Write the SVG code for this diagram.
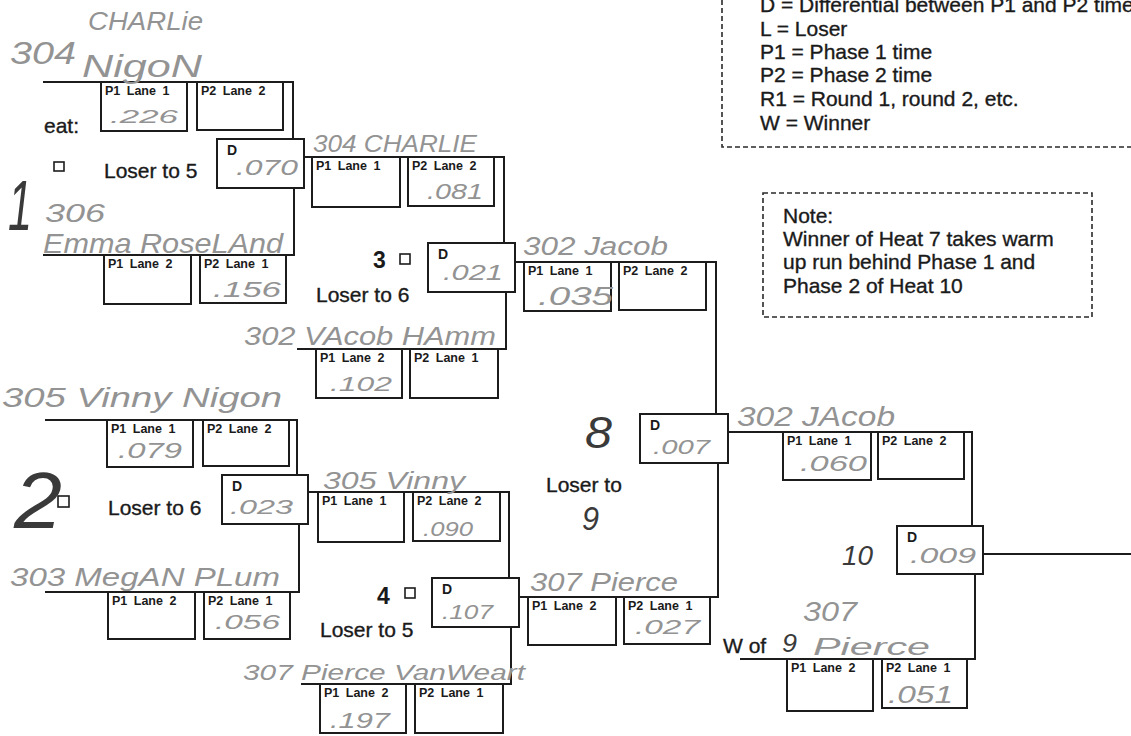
<svg xmlns="http://www.w3.org/2000/svg" width="1131" height="736" viewBox="0 0 1131 736">
<style>
.ln{fill:none;stroke:#1c1c1c;stroke-width:2}
.bx{fill:none;stroke:#1c1c1c;stroke-width:2}
.sq{fill:none;stroke:#1c1c1c;stroke-width:1.6}
.dash{fill:none;stroke:#2a2a2a;stroke-width:1.6;stroke-dasharray:5 3}
.lb{font-family:"Liberation Sans",Arial,sans-serif;font-weight:bold;font-size:12.5px;word-spacing:3px;fill:#1a1a1a}
.d{font-family:"Liberation Sans",Arial,sans-serif;font-weight:bold;font-size:14px;fill:#1a1a1a}
.pr{font-family:"Liberation Sans",Arial,sans-serif;font-size:21px;fill:#1a1a1a;stroke:#1a1a1a;stroke-width:0.35}
.num{font-family:"Liberation Sans",Arial,sans-serif;font-weight:bold;font-size:23px;fill:#1a1a1a}
.hw{font-family:"Liberation Sans",Arial,sans-serif;font-style:italic;fill:#939393}
.hd{font-family:"Liberation Sans",Arial,sans-serif;font-style:italic;fill:#3a3a3a}
</style>
<rect width="1131" height="736" fill="#ffffff"/>

<g id="connectors">
  <path class="ln" d="M43,82 H293 V139"/>
  <path class="ln" d="M43,255 H294 V188"/>
  <path class="ln" d="M45,420 H297 V475"/>
  <path class="ln" d="M45,592 H299 V524"/>
  <path class="ln" d="M304,157 H504 V243"/>
  <path class="ln" d="M297,349 H506 V292"/>
  <path class="ln" d="M308,492 H509 V578"/>
  <path class="ln" d="M301,684 H511 V627"/>
  <path class="ln" d="M515,262 H716 V414"/>
  <path class="ln" d="M519,597 H718 V463"/>
  <path class="ln" d="M728,432 H972 V526"/>
  <path class="ln" d="M740,659 H975 V574"/>
  <path class="ln" d="M983,554 H1131"/>
</g>

<g id="legend">
  <path class="dash" d="M722,0 V147 H1131"/>
  <text class="pr" x="760" y="12">D = Differential between P1 and P2 time</text>
  <text class="pr" x="760" y="36">L = Loser</text>
  <text class="pr" x="760" y="59">P1 = Phase 1 time</text>
  <text class="pr" x="760" y="82">P2 = Phase 2 time</text>
  <text class="pr" x="760" y="106">R1 = Round 1, round 2, etc.</text>
  <text class="pr" x="760" y="130">W = Winner</text>
</g>

<g id="note">
  <rect class="dash" x="763" y="193" width="329" height="124"/>
  <text class="pr" x="783" y="223">Note:</text>
  <text class="pr" x="783" y="246">Winner of Heat 7 takes warm</text>
  <text class="pr" x="783" y="269">up run behind Phase 1 and</text>
  <text class="pr" x="783" y="293">Phase 2 of Heat 10</text>
</g>

<g id="heat1">
  <text class="pr" x="44" y="133">eat:</text>
  <rect class="sq" x="54" y="162" width="10" height="9"/>
  <text class="pr" x="104" y="178">Loser to 5</text>
  <rect class="bx" x="101" y="82" width="86" height="49"/>
  <text class="lb" x="105" y="95">P1 Lane 1</text>
  <rect class="bx" x="197" y="82" width="86" height="48"/>
  <text class="lb" x="201" y="95">P2 Lane 2</text>
  <rect class="bx" x="217" y="139" width="87" height="49"/>
  <text class="d" x="227" y="155">D</text>
  <rect class="bx" x="104" y="255" width="87" height="49"/>
  <text class="lb" x="108" y="268">P1 Lane 2</text>
  <rect class="bx" x="200" y="255" width="86" height="48"/>
  <text class="lb" x="204" y="268">P2 Lane 1</text>
</g>

<g id="heat2">
  <rect class="sq" x="58" y="496" width="11" height="11"/>
  <text class="pr" x="108" y="515">Loser to 6</text>
  <rect class="bx" x="107" y="420" width="86" height="47"/>
  <text class="lb" x="111" y="433">P1 Lane 1</text>
  <rect class="bx" x="203" y="420" width="86" height="46"/>
  <text class="lb" x="207" y="433">P2 Lane 2</text>
  <rect class="bx" x="222" y="475" width="86" height="49"/>
  <text class="d" x="232" y="491">D</text>
  <rect class="bx" x="108" y="592" width="87" height="47"/>
  <text class="lb" x="112" y="605">P1 Lane 2</text>
  <rect class="bx" x="204" y="592" width="86" height="47"/>
  <text class="lb" x="208" y="605">P2 Lane 1</text>
</g>

<g id="heat3">
  <text class="num" x="373" y="268">3</text>
  <rect class="sq" x="400" y="254" width="10" height="10"/>
  <text class="pr" x="316" y="302">Loser to 6</text>
  <rect class="bx" x="312" y="157" width="88" height="50"/>
  <text class="lb" x="316" y="170">P1 Lane 1</text>
  <rect class="bx" x="408" y="157" width="86" height="49"/>
  <text class="lb" x="412" y="170">P2 Lane 2</text>
  <rect class="bx" x="428" y="243" width="87" height="49"/>
  <text class="d" x="438" y="259">D</text>
  <rect class="bx" x="316" y="349" width="86" height="49"/>
  <text class="lb" x="320" y="362">P1 Lane 2</text>
  <rect class="bx" x="410" y="349" width="88" height="49"/>
  <text class="lb" x="414" y="362">P2 Lane 1</text>
</g>

<g id="heat4">
  <text class="num" x="377" y="604">4</text>
  <rect class="sq" x="405" y="588" width="10" height="10"/>
  <text class="pr" x="320" y="637">Loser to 5</text>
  <rect class="bx" x="318" y="492" width="86" height="50"/>
  <text class="lb" x="322" y="505">P1 Lane 1</text>
  <rect class="bx" x="413" y="492" width="87" height="49"/>
  <text class="lb" x="417" y="505">P2 Lane 2</text>
  <rect class="bx" x="432" y="578" width="87" height="49"/>
  <text class="d" x="442" y="594">D</text>
  <rect class="bx" x="320" y="684" width="86" height="49"/>
  <text class="lb" x="324" y="697">P1 Lane 2</text>
  <rect class="bx" x="415" y="684" width="88" height="49"/>
  <text class="lb" x="419" y="697">P2 Lane 1</text>
</g>

<g id="heat8">
  <text class="pr" x="546" y="492">Loser to</text>
  <rect class="bx" x="524" y="262" width="87" height="49"/>
  <text class="lb" x="528" y="275">P1 Lane 1</text>
  <rect class="bx" x="619" y="262" width="87" height="48"/>
  <text class="lb" x="623" y="275">P2 Lane 2</text>
  <rect class="bx" x="640" y="414" width="88" height="49"/>
  <text class="d" x="650" y="430">D</text>
  <rect class="bx" x="528" y="597" width="88" height="48"/>
  <text class="lb" x="532" y="610">P1 Lane 2</text>
  <rect class="bx" x="624" y="597" width="86" height="47"/>
  <text class="lb" x="628" y="610">P2 Lane 1</text>
</g>

<g id="heat10">
  <text class="pr" x="723" y="653">W of</text>
  <rect class="bx" x="783" y="432" width="88" height="48"/>
  <text class="lb" x="787" y="445">P1 Lane 1</text>
  <rect class="bx" x="878" y="432" width="86" height="47"/>
  <text class="lb" x="882" y="445">P2 Lane 2</text>
  <rect class="bx" x="897" y="526" width="86" height="48"/>
  <text class="d" x="907" y="542">D</text>
  <rect class="bx" x="787" y="659" width="86" height="52"/>
  <text class="lb" x="791" y="672">P1 Lane 2</text>
  <rect class="bx" x="882" y="659" width="85" height="49"/>
  <text class="lb" x="886" y="672">P2 Lane 1</text>
</g>

<g id="handwriting">
  <text class="hw" x="88" y="30" font-size="26" textLength="115" lengthAdjust="spacingAndGlyphs">CHARLie</text>
  <text class="hw" x="10" y="64" font-size="32" textLength="66" lengthAdjust="spacingAndGlyphs">304</text>
  <text class="hw" x="82" y="77" font-size="32" textLength="120" lengthAdjust="spacingAndGlyphs">NigoN</text>
  <text class="hw" x="110" y="123" font-size="18" textLength="68" lengthAdjust="spacingAndGlyphs">.226</text>
  <text class="hw" x="236" y="175" font-size="22" textLength="62" lengthAdjust="spacingAndGlyphs">.070</text>
  <text class="hd" x="8" y="230" font-size="70" textLength="24" lengthAdjust="spacingAndGlyphs">1</text>
  <text class="hw" x="45" y="222" font-size="26" textLength="60" lengthAdjust="spacingAndGlyphs">306</text>
  <text class="hw" x="43" y="253" font-size="28" textLength="240" lengthAdjust="spacingAndGlyphs">Emma RoseLAnd</text>
  <text class="hw" x="213" y="297" font-size="22" textLength="68" lengthAdjust="spacingAndGlyphs">.156</text>
  <text class="hw" x="313" y="152" font-size="24" textLength="164" lengthAdjust="spacingAndGlyphs">304 CHARLIE</text>
  <text class="hw" x="427" y="199" font-size="22" textLength="56" lengthAdjust="spacingAndGlyphs">.081</text>
  <text class="hw" x="443" y="280" font-size="22" textLength="60" lengthAdjust="spacingAndGlyphs">.021</text>
  <text class="hw" x="523" y="255" font-size="26" textLength="145" lengthAdjust="spacingAndGlyphs">302 Jacob</text>
  <text class="hw" x="538" y="305" font-size="26" textLength="75" lengthAdjust="spacingAndGlyphs">.035</text>
  <text class="hw" x="244" y="345" font-size="26" textLength="252" lengthAdjust="spacingAndGlyphs">302 VAcob HAmm</text>
  <text class="hw" x="330" y="391" font-size="20" textLength="62" lengthAdjust="spacingAndGlyphs">.102</text>
  <text class="hw" x="2" y="407" font-size="28" textLength="280" lengthAdjust="spacingAndGlyphs">305 Vinny Nigon</text>
  <text class="hw" x="118" y="458" font-size="22" textLength="64" lengthAdjust="spacingAndGlyphs">.079</text>
  <text class="hd" x="14" y="528" font-size="80" textLength="48" lengthAdjust="spacingAndGlyphs">2</text>
  <text class="hw" x="230" y="514" font-size="20" textLength="63" lengthAdjust="spacingAndGlyphs">.023</text>
  <text class="hw" x="10" y="586" font-size="26" textLength="270" lengthAdjust="spacingAndGlyphs">303 MegAN PLum</text>
  <text class="hw" x="215" y="629" font-size="20" textLength="65" lengthAdjust="spacingAndGlyphs">.056</text>
  <text class="hw" x="323" y="489" font-size="24" textLength="142" lengthAdjust="spacingAndGlyphs">305 Vinny</text>
  <text class="hw" x="423" y="536" font-size="20" textLength="50" lengthAdjust="spacingAndGlyphs">.090</text>
  <text class="hw" x="442" y="619" font-size="20" textLength="51" lengthAdjust="spacingAndGlyphs">.107</text>
  <text class="hw" x="530" y="591" font-size="26" textLength="148" lengthAdjust="spacingAndGlyphs">307 Pierce</text>
  <text class="hw" x="635" y="634" font-size="20" textLength="65" lengthAdjust="spacingAndGlyphs">.027</text>
  <text class="hw" x="243" y="680" font-size="22" textLength="282" lengthAdjust="spacingAndGlyphs">307 Pierce VanWeart</text>
  <text class="hw" x="330" y="728" font-size="22" textLength="60" lengthAdjust="spacingAndGlyphs">.197</text>
  <text class="hw" x="653" y="454" font-size="20" textLength="57" lengthAdjust="spacingAndGlyphs">.007</text>
  <text class="hd" x="585" y="448" font-size="44" textLength="27" lengthAdjust="spacingAndGlyphs">8</text>
  <text class="hd" x="582" y="530" font-size="34" textLength="17" lengthAdjust="spacingAndGlyphs">9</text>
  <text class="hw" x="737" y="426" font-size="28" textLength="158" lengthAdjust="spacingAndGlyphs">302 JAcob</text>
  <text class="hw" x="800" y="471" font-size="22" textLength="67" lengthAdjust="spacingAndGlyphs">.060</text>
  <text class="hd" x="842" y="565" font-size="28" textLength="31" lengthAdjust="spacingAndGlyphs">10</text>
  <text class="hw" x="910" y="563" font-size="22" textLength="66" lengthAdjust="spacingAndGlyphs">.009</text>
  <text class="hw" x="803" y="621" font-size="28" textLength="54" lengthAdjust="spacingAndGlyphs">307</text>
  <text class="hw" x="813" y="655" font-size="24" textLength="117" lengthAdjust="spacingAndGlyphs">Pierce</text>
  <text class="hw" x="888" y="703" font-size="24" textLength="65" lengthAdjust="spacingAndGlyphs">.051</text>
  <text class="hd" x="782" y="652" font-size="26" textLength="15" lengthAdjust="spacingAndGlyphs">9</text>
</g>
</svg>
